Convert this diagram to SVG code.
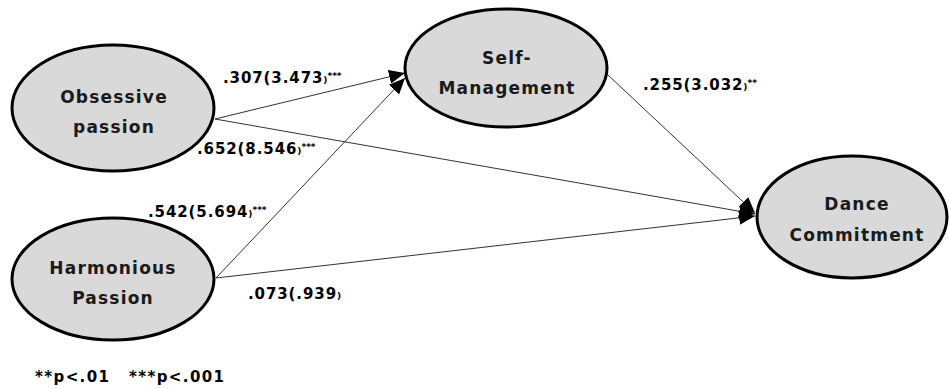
<svg xmlns="http://www.w3.org/2000/svg" width="949" height="389" viewBox="0 0 949 389">
<defs>
<marker id="arr" viewBox="0 0 16 14" refX="16" refY="7" markerWidth="16" markerHeight="14" markerUnits="userSpaceOnUse" orient="auto">
<path d="M0,0 L16,7 L0,14 Z" fill="#000"/>
</marker>
<style>
.node ellipse{fill:#d9d9d9;stroke:#000;stroke-width:3}
.nt{font-family:"DejaVu Sans",sans-serif;font-size:17px;font-weight:bold;fill:#1a1a1a;text-anchor:middle;letter-spacing:1.2px}
.lbl{font-family:"DejaVu Sans",sans-serif;font-size:15px;font-weight:bold;fill:#000;letter-spacing:0.9px}
.sup{font-size:9px;letter-spacing:0}
.fn{letter-spacing:1.4px}
.conn line{stroke:#333;stroke-width:1;fill:none}
</style>
</defs>
<rect width="949" height="389" fill="#fff"/>
<g id="connectors" class="conn">
<line x1="215" y1="119" x2="405" y2="73" marker-end="url(#arr)"/>
<line x1="216" y1="278" x2="405" y2="78" marker-end="url(#arr)"/>
<line x1="215" y1="119" x2="755" y2="214" marker-end="url(#arr)"/>
<line x1="216" y1="278" x2="755" y2="216" marker-end="url(#arr)"/>
<line x1="608" y1="75" x2="755" y2="213" marker-end="url(#arr)"/>
</g>
<g id="obsessive" class="node">
<ellipse cx="113" cy="108" rx="101" ry="63"/>
<text class="nt" x="114" y="103">Obsessive</text>
<text class="nt" x="114" y="133">passion</text>
</g>
<g id="harmonious" class="node">
<ellipse cx="113" cy="279" rx="101" ry="61"/>
<text class="nt" x="113" y="274">Harmonious</text>
<text class="nt" x="113" y="304">Passion</text>
</g>
<g id="selfmanagement" class="node">
<ellipse cx="506" cy="68" rx="101" ry="59"/>
<text class="nt" x="507" y="64">Self-</text>
<text class="nt" x="507" y="94">Management</text>
</g>
<g id="dance" class="node">
<ellipse cx="852" cy="217" rx="95" ry="61"/>
<text class="nt" x="857" y="210">Dance</text>
<text class="nt" x="857" y="241">Commitment</text>
</g>
<g id="labels">
<text class="lbl" x="223" y="83">.307(3.473<tspan class="sup">)</tspan><tspan class="sup" dy="-4">***</tspan></text>
<text class="lbl" x="197" y="154">.652(8.546<tspan class="sup">)</tspan><tspan class="sup" dy="-4">***</tspan></text>
<text class="lbl" x="148" y="217">.542(5.694<tspan class="sup">)</tspan><tspan class="sup" dy="-4">***</tspan></text>
<text class="lbl" x="248" y="299">.073(.939<tspan class="sup">)</tspan></text>
<text class="lbl" x="643" y="90">.255(3.032<tspan class="sup">)</tspan><tspan class="sup" dy="-4">**</tspan></text>
<text class="lbl fn" x="35" y="382">**p&lt;.01</text>
<text class="lbl fn" x="129" y="382">***p&lt;.001</text>
</g>
</svg>
